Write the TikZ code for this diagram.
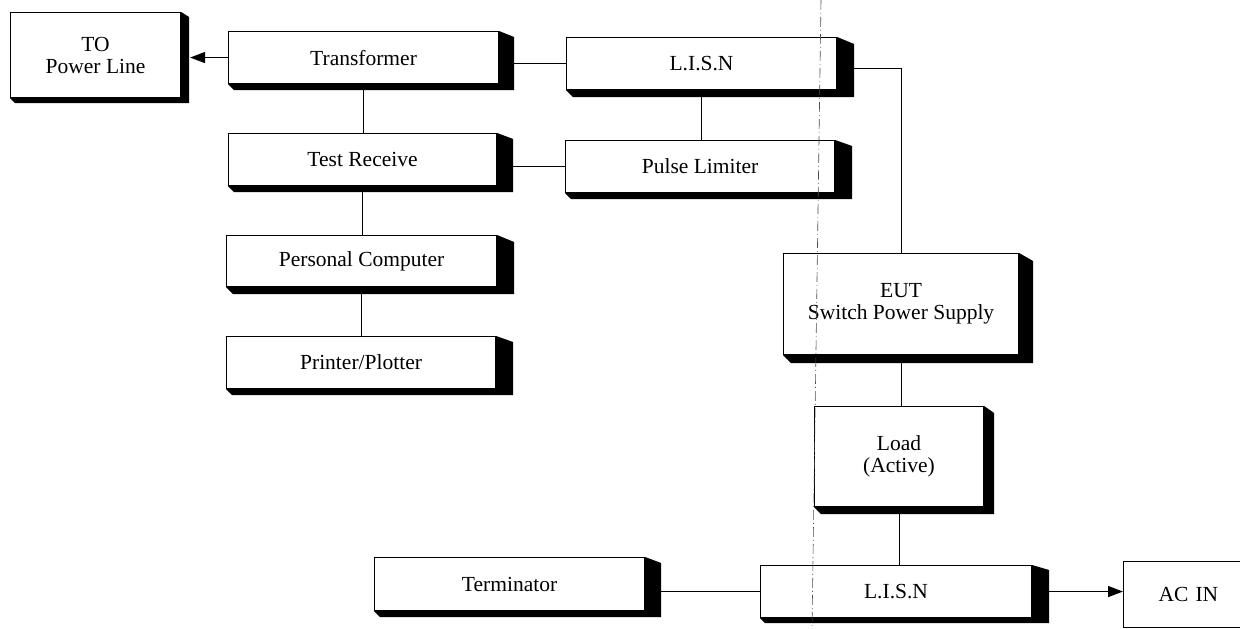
\documentclass[tikz,border=0pt]{standalone}
\usepackage{fontspec}
\setmainfont{Liberation Serif}
\usetikzlibrary{arrows.meta,calc}
\tikzset{
  blk/.style={draw=black, line width=1.1pt, fill=white, anchor=north west,
    inner sep=0pt, align=center, font=\fontsize{21.5}{22}\selectfont},
  wire/.style={draw=black, line width=1pt},
  arr/.style={draw=black, line width=1.4pt, -{Triangle[length=15pt,width=11pt]}},
  fold/.style={draw=black!70, line width=0.6pt, dash pattern=on 10pt off 3pt on 1pt off 3pt},
}
\newcommand\dropshade[3]{%
  \fill[black] (#1.north east) -- ++(#2,#3) -- ($(#1.south east)+(#2,#3)$)
    -- ($(#1.south west)+(#3,#3)$) -- (#1.south west) -- (#1.south east) -- cycle;}
\begin{document}
\begin{tikzpicture}[x=1pt,y=-1pt]
  \useasboundingbox (0,0) rectangle (1240,629);
  \clip (0,0) rectangle (1240,629);
  \fill[white] (0,0) rectangle (1240,629);

  % boxes
  \node[blk, minimum width=170pt, minimum height=85pt] (to) at (10,12) {TO\\Power Line};
  \node[blk, minimum width=270pt, minimum height=52pt] (tr) at (228,31) {Transformer};
  \node[blk, minimum width=270pt, minimum height=52pt] (l1) at (566,37) {L.I.S.N};
  \node[blk, minimum width=268pt, minimum height=52pt] (rx) at (228,133) {Test Receive};
  \node[blk, minimum width=269pt, minimum height=52pt] (pl) at (565,140) {Pulse Limiter};
  \node[blk, minimum width=270pt, minimum height=51pt] (pc) at (226,235) {Personal Computer};
  \node[blk, minimum width=269pt, minimum height=52pt] (pp) at (226,336) {Printer/Plotter};
  \node[blk, minimum width=235pt, minimum height=101pt] (eut) at (783,253) {EUT\\Switch Power Supply};
  \node[blk, minimum width=169pt, minimum height=100pt] (ld) at (814,406) {Load\\(Active)};
  \node[blk, minimum width=271pt, minimum height=52pt] (l2) at (760,565) {L.I.S.N};
  \node[blk, minimum width=270pt, minimum height=53pt] (tm) at (374,557) {Terminator};
  \node[blk, minimum width=130pt, minimum height=66pt, text width=114pt, align=left] (ac) at (1123,561) {\hspace*{27pt}AC IN};

  % shadows
  \dropshade{to}{8}{5}
  \dropshade{tr}{15}{6}
  \dropshade{l1}{17}{7}
  \dropshade{rx}{16}{6}
  \dropshade{pl}{17}{6}
  \dropshade{pc}{17}{7}
  \dropshade{pp}{17}{6}
  \dropshade{eut}{14}{8}
  \dropshade{ld}{10}{7}
  \dropshade{l2}{17}{5}
  \dropshade{tm}{16}{6}

  % connectors
  \draw[arr] (tr.west) -- ([xshift=9pt]tr.west -| to.east);
  \draw[wire] (l1.west) -- ([xshift=15pt]l1.west -| tr.east);
  \draw[wire] (tr.south) -- (tr.south |- rx.north);
  \draw[wire] (l1.south) -- (l1.south |- pl.north);
  \draw[wire] (pl.west) -- ([xshift=16pt]pl.west -| rx.east);
  \draw[wire] (rx.south) -- (rx.south |- pc.north);
  \draw[wire] (pc.south) -- (pc.south |- pp.north);
  \draw[wire] ([xshift=17pt,yshift=-5pt]l1.east) -| (eut.north);
  \draw[wire] (eut.south) -- (eut.south |- ld.north);
  \draw[wire] (ld.south) -- (ld.south |- l2.north);
  \draw[wire] (l2.west) -- ([xshift=16pt]l2.west -| tm.east);
  \draw[arr] ([xshift=17pt]l2.east) -- (l2.east -| ac.west);

  % scan fold line
  \coordinate (ft) at (821,0);
  \coordinate (fb) at (812,629);
  \draw[fold] (ft) -- (fb);
\end{tikzpicture}
\end{document}
